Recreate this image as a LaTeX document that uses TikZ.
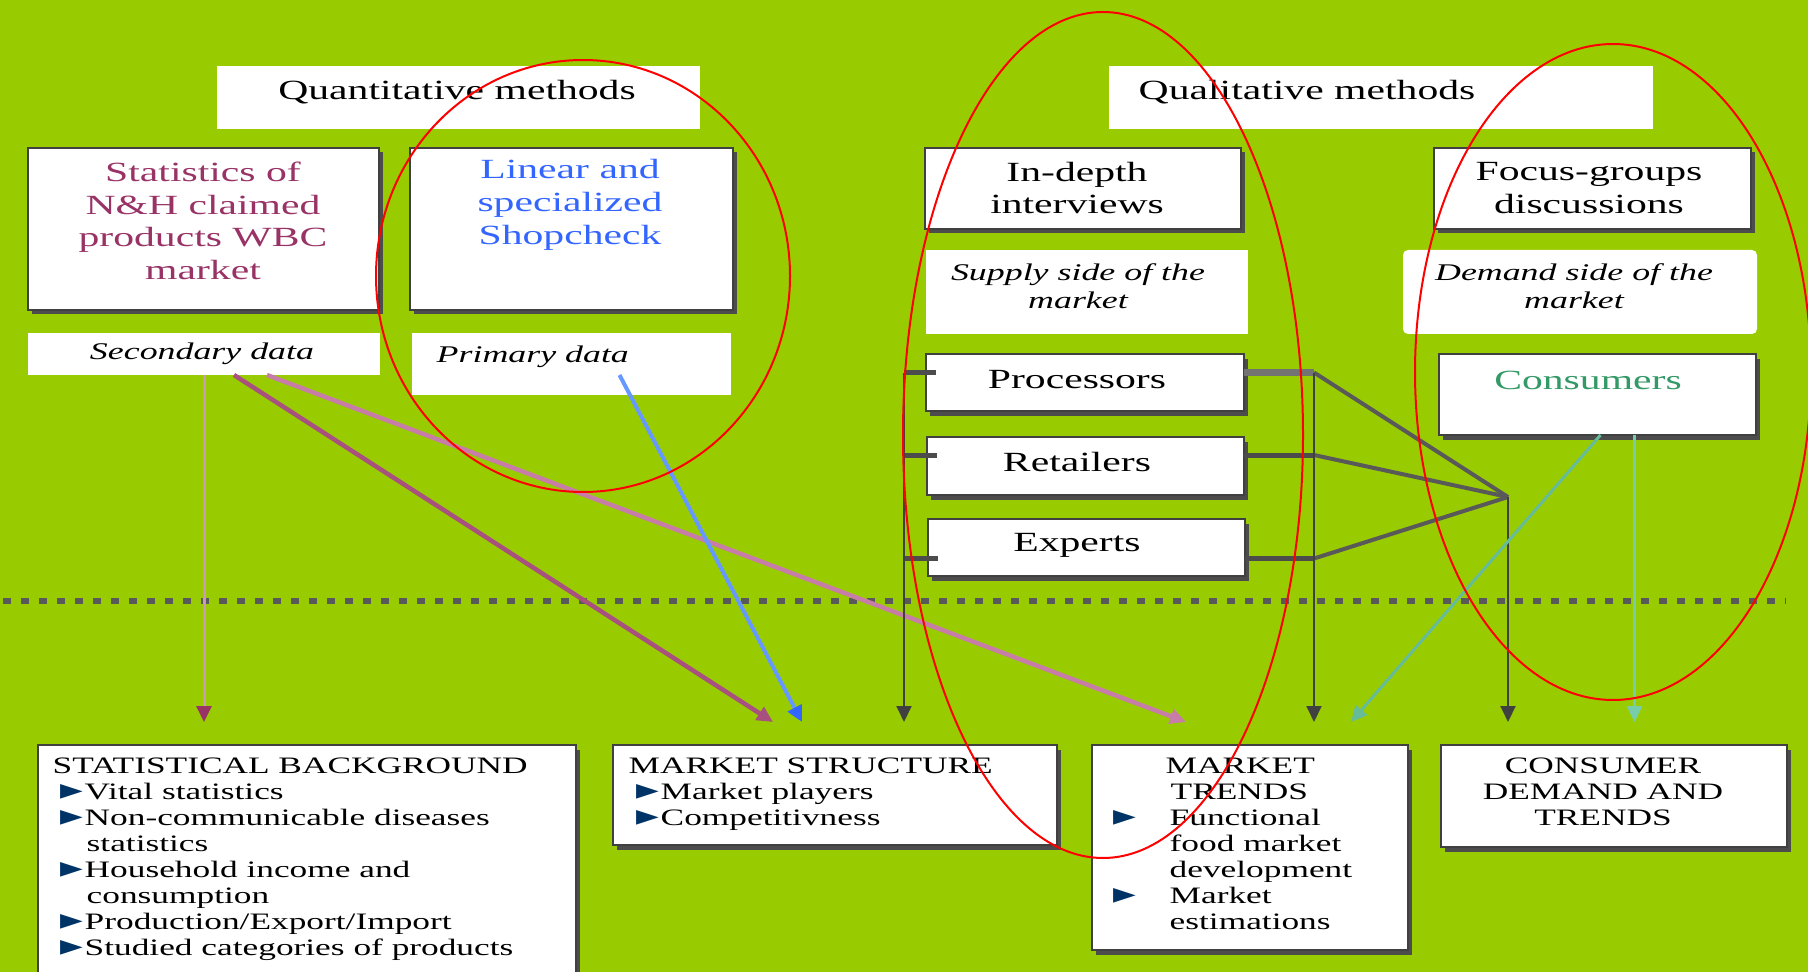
\documentclass[tikz,border=0pt]{standalone}
\usepackage{fontspec}
\setmainfont{Liberation Serif}[FakeStretch=1.5]
\newfontfamily\symbfont{DejaVu Sans}
\usetikzlibrary{arrows.meta,shadows}

\definecolor{bg}{HTML}{99CC00}
\definecolor{mauve}{HTML}{993366}
\definecolor{linblue}{HTML}{3366FF}
\definecolor{consgreen}{HTML}{339966}
\definecolor{bulletblue}{HTML}{003366}
\definecolor{pinkA}{HTML}{CC99BB}
\definecolor{pinkB}{HTML}{A8507E}
\definecolor{pinkC}{HTML}{C87DA8}
\definecolor{lineblue}{HTML}{6699FF}
\definecolor{tealA}{HTML}{66BB99}
\definecolor{tealB}{HTML}{77CCAA}

\newcommand{\bpoint}[1][2.4mm]{\makebox[#1][l]{\smash{\symbfont\fontsize{8.4}{8.4}\selectfont\color{bulletblue}\char"25BA}}}

\tikzset{
  box/.style={draw=black!75, line width=0.15mm, fill=white, inner sep=0pt, outer sep=0pt, anchor=north west,
    drop shadow={shadow xshift=0.35mm, shadow yshift=-0.45mm, fill=black!70, opacity=1}},
  plain/.style={fill=white, inner sep=0pt, outer sep=0pt, anchor=north west},
  head/.style={font=\fontsize{7.9}{9.3}\selectfont, align=center, inner sep=0pt},
  itx/.style={font=\fontsize{6.8}{8}\selectfont\itshape, align=center, inner sep=0pt},
  small/.style={font=\fontsize{6.7}{7.4}\selectfont, align=left, inner sep=0pt},
  conn/.style={draw=black!65, line width=0.4mm},
  stub/.style={draw=black!70, line width=0.5mm},
  vline/.style={draw=black!75, line width=0.2mm},
  arr/.style={-{Triangle[length=1.6mm,width=1.5mm]}},
  ring/.style={draw=red, line width=0.2mm},
}

\begin{document}
\begin{tikzpicture}[x=0.1mm, y=-0.1mm]
    \useasboundingbox (0,0) rectangle (1808,972);
    \clip (0,0) rectangle (1808,972);
    \fill[bg] (0,0) rectangle (1808,972);

    % quantitative side
    \node [plain, minimum width=48.3mm, minimum height=6.3mm] (quant) at (217,66) {};
    \node [box, minimum width=35.1mm, minimum height=16.2mm] (stat) at (28,148) {};
    \node [box, minimum width=32.3mm, minimum height=16.2mm] (linear) at (410,148) {};
    \node [plain, minimum width=35.2mm, minimum height=4.2mm] (sec) at (28,333) {};
    \node [plain, minimum width=31.9mm, minimum height=6.2mm] (prim) at (412,333) {};

    % qualitative side
    \node [plain, minimum width=54.4mm, minimum height=6.3mm] (qual) at (1109,66) {};
    \node [box, minimum width=31.6mm, minimum height=8.1mm] (indepth) at (925,148) {};
    \node [box, minimum width=31.7mm, minimum height=8.1mm] (focus) at (1434,148) {};
    \node [plain, minimum width=32.2mm, minimum height=8.4mm] (supply) at (926,250) {};
    \node [plain, rounded corners=0.5mm, minimum width=35.4mm, minimum height=8.4mm] (demand) at (1403,250) {};
    \node [box, minimum width=31.8mm, minimum height=5.7mm] (proc) at (926,354) {};
    \node [box, minimum width=31.7mm, minimum height=5.8mm] (ret) at (927,437) {};
    \node [box, minimum width=31.7mm, minimum height=5.7mm] (exp) at (928,519) {};
    \node [box, minimum width=31.7mm, minimum height=8.1mm] (cons) at (1439,354) {};

    % results
    \node [box, minimum width=53.8mm, minimum height=26mm] (statbg) at (38,745) {};
    \node [box, minimum width=44.4mm, minimum height=10mm] (mstruct) at (613,745) {};
    \node [box, minimum width=31.6mm, minimum height=20.5mm] (mtrends) at (1092,745) {};
    \node [box, minimum width=34.6mm, minimum height=10.2mm] (cdemand) at (1441,745) {};

    % texts
    \node [head] (tquant) at (457,92) {Quantitative methods};
    \node [head, text=mauve] (tstat) at (203,221) {Statistics of\\N\&H claimed\\products WBC\\market};
    \node [head, text=linblue] (tlinear) at (570,205) {Linear and\\specialized\\Shopcheck};
    \node [itx] (tsec) at (202,354) {Secondary data};
    \node [itx, anchor=west] (tprim) at (436,357) {Primary data};
    \node [head] (tqual) at (1307,92) {Qualitative methods};
    \node [head] (tindepth) at (1077,188) {In-depth\\interviews};
    \node [head] (tfocus) at (1589,188) {Focus-groups\\discussions};
    \node [itx] (tsupply) at (1078,286) {Supply side of the\\market};
    \node [itx] (tdemand) at (1574,286) {Demand side of the\\market};
    \node [head] (tproc) at (1077,380) {Processors};
    \node [head] (tret) at (1077,462) {Retailers};
    \node [head] (texp) at (1077,545) {Experts};
    \node [head, text=consgreen] (tcons) at (1588,380) {Consumers};

    \node [small, anchor=north west] (tstatbg) at (52,757) {STATISTICAL BACKGROUND\\
      \hspace*{0.8mm}\bpoint Vital statistics\\
      \hspace*{0.8mm}\bpoint Non-communicable diseases\\
      \hspace*{3.4mm}statistics\\
      \hspace*{0.8mm}\bpoint Household income and\\
      \hspace*{3.4mm}consumption\\
      \hspace*{0.8mm}\bpoint Production/Export/Import\\
      \hspace*{0.8mm}\bpoint Studied categories of products};
    \node [small, anchor=north west] (tmstruct) at (628,757) {MARKET STRUCTURE\\
      \hspace*{0.8mm}\bpoint Market players\\
      \hspace*{0.8mm}\bpoint Competitivness};
    \node [small, anchor=north west] (tmtrends) at (1113,757) {\hspace*{5.2mm}MARKET\\
      \hspace*{5.7mm}TRENDS\\
      \bpoint[5.6mm]Functional\\
      \hspace*{5.6mm}food market\\
      \hspace*{5.6mm}development\\
      \bpoint[5.6mm]Market\\
      \hspace*{5.6mm}estimations};
    \node [small, align=center, anchor=north] (tcdemand) at (1603,757) {CONSUMER\\DEMAND AND\\TRENDS};

    % dotted divider
    \coordinate (divl) at (3,601);
    \coordinate (divr) at (1785,601);
    \draw [black!65, line width=0.6mm, dash pattern=on 0.8mm off 1mm] (divl) -- (divr);

    % arrows
    \coordinate (tips) at (0,722);
    \draw [pinkA, line width=0.3mm, -{Triangle[length=1.6mm,width=1.5mm,color=mauve]}] (sec.south) -- (sec.south |- tips);
    \draw [pinkB, line width=0.45mm, arr] ([xshift=3mm]sec.south) -- ([xshift=-6.2mm,yshift=2.3mm]mstruct.north);
    \draw [pinkC, line width=0.45mm, arr] ([xshift=6.3mm]sec.south) -- ([xshift=-6.4mm,yshift=2.3mm]mtrends.north);
    \draw [lineblue, line width=0.4mm, -{Triangle[length=1.6mm,width=1.5mm,color=linblue]}] ([xshift=4.8mm,yshift=2mm]prim.south) -- ([xshift=-3.3mm,yshift=2.3mm]mstruct.north);

    \draw [stub] ([xshift=1mm,yshift=1mm]proc.west) -- ++(-3.2mm,0) coordinate (pl);
    \draw [stub] ([xshift=1mm,yshift=1.1mm]ret.west) -- ++(-3.3mm,0) coordinate (rl);
    \draw [stub] ([xshift=1mm,yshift=-1.1mm]exp.west) -- ++(-3.4mm,0) coordinate (el);
    \draw [vline, arr] (pl) -- (pl |- tips);

    \coordinate (hub) at (1508,497);
    \draw [stub, draw=black!55, line width=0.7mm] ([yshift=1mm]proc.east) -- ++(7mm,0) coordinate (pr);
    \draw [stub] ([yshift=1.1mm]ret.east) -- ++(7mm,0) coordinate (rr);
    \draw [stub] ([yshift=-1.1mm]exp.east) -- ++(6.9mm,0) coordinate (er);
    \draw [conn] (pr) -- (hub);
    \draw [conn] (rr) -- (hub);
    \draw [conn] (er) -- (hub);
    \draw [vline, arr] (pr) -- (pr |- tips);
    \draw [vline, arr] (hub) -- (hub |- tips);

    \draw [tealA, line width=0.3mm, arr] ([xshift=0.3mm]cons.south) -- ([xshift=10.1mm,yshift=2.3mm]mtrends.north);
    \draw [tealB, line width=0.3mm, arr] ([xshift=3.7mm]cons.south) coordinate (cv) -- (cv |- tips);

    % red rings
    \draw [ring] (583,276) ellipse [x radius=207, y radius=216];
    \draw [ring] (1103,435) ellipse [x radius=200, y radius=423];
    \draw [ring] (1613,372) ellipse [x radius=198, y radius=328];
\end{tikzpicture}
\end{document}
